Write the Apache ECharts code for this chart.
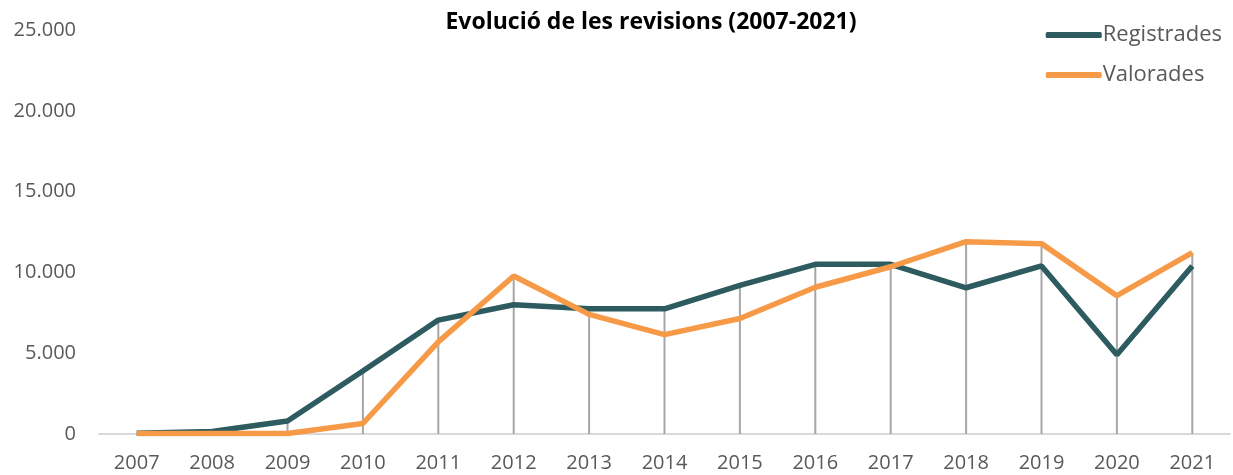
<!DOCTYPE html>
<html>
<head>
<meta charset="utf-8">
<script src="https://cdn.jsdelivr.net/npm/echarts@6/dist/echarts.min.js"></script>
<style>
  html, body { margin: 0; padding: 0; background: #fff; }
  #chart { width: 1233px; height: 475px; }
</style>
</head>
<body>
<div id="chart"></div>
<script>
var years = ['2007', '2008', '2009', '2010', '2011', '2012', '2013', '2014', '2015', '2016', '2017', '2018', '2019', '2020', '2021'];
var registrades = [50, 150, 800, 3900, 7050, 8000, 7750, 7750, 9200, 10500, 10500, 9050, 10400, 4900, 10400];
var valorades = [30, 30, 30, 650, 5700, 9780, 7400, 6150, 7150, 9080, 10350, 11900, 11780, 8560, 11220];

// drop lines go up to the higher of the two series
var dropLines = years.map(function(y, i) {
    return Math.max(registrades[i], valorades[i]);
});

var chart = echarts.init(document.getElementById('chart'));

var font = 'Open Sans';

chart.setOption({
    animation: false,
    title: {
        text: 'Evolució de les revisions (2007-2021)',
        left: 646,
        textAlign: 'center',
        top: 6,
        textStyle: { fontFamily: font, fontWeight: 'bold', fontSize: 23, color: '#000' }
    },
    legend: {
        orient: 'vertical',
        right: 6,
        top: 19,
        itemGap: 18,
        itemWidth: 56,
        itemHeight: 6,
        icon: 'roundRect',
        data: ['Registrades', 'Valorades'],
        textStyle: { fontFamily: font, fontSize: 22, color: '#595959', padding: [0, 0, 0, -4] }
    },
    grid: { left: 99, right: 3, top: 30, bottom: 41 },
    xAxis: {
        type: 'category',
        data: years,
        boundaryGap: true,
        axisLine: { lineStyle: { color: '#d9d9d9', width: 2 } },
        axisTick: { show: false },
        axisLabel: { fontFamily: font, fontSize: 20, color: '#595959', margin: 19 }
    },
    yAxis: {
        type: 'value',
        min: 0,
        max: 25000,
        interval: 5000,
        axisLine: { show: false },
        axisTick: { show: false },
        splitLine: { show: false },
        axisLabel: {
            fontFamily: font, fontSize: 20, color: '#595959', margin: 23,
            formatter: function(v) {
                return v.toString().replace(/\B(?=(\d{3})+(?!\d))/g, '.');
            }
        }
    },
    series: [{
        name: 'drop',
        type: 'bar',
        data: dropLines,
        barWidth: 2,
        itemStyle: { color: '#a6a6a6' },
        silent: true,
        z: 1
    }, {
        name: 'Registrades',
        type: 'line',
        data: registrades,
        symbol: 'none',
        lineStyle: { color: '#2d5b5f', width: 5.5 },
        itemStyle: { color: '#2d5b5f' },
        z: 3
    }, {
        name: 'Valorades',
        type: 'line',
        data: valorades,
        symbol: 'none',
        lineStyle: { color: '#f79a48', width: 5.5 },
        itemStyle: { color: '#f79a48' },
        z: 4
    }]
});
</script>
</body>
</html>
